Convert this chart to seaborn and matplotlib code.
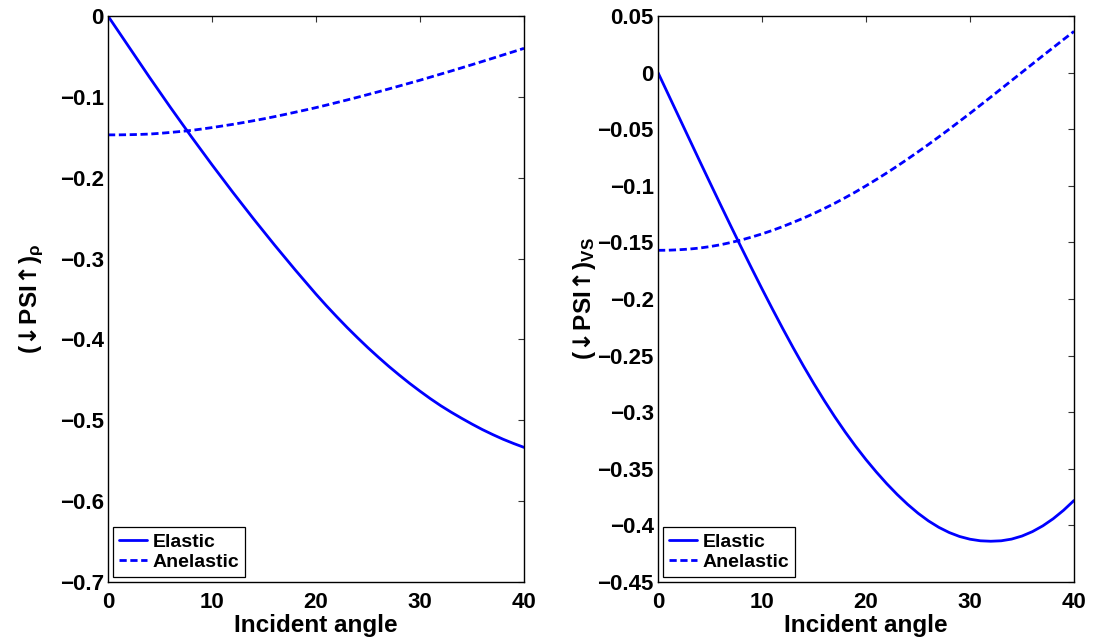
import numpy as np
import pandas as pd
import matplotlib
matplotlib.use("Agg")
import matplotlib.pyplot as plt
import seaborn as sns
from matplotlib.ticker import FuncFormatter

# incident angle (deg), one reading per degree
angles = list(range(0, 41))

# left panel: density term
rho_elastic = [0.0, -0.019, -0.038, -0.057, -0.076, -0.0945, -0.113, -0.131,
               -0.149, -0.1665, -0.184, -0.201, -0.218, -0.2345, -0.251,
               -0.267, -0.283, -0.2985, -0.314, -0.329, -0.344, -0.3583,
               -0.372, -0.3853, -0.398, -0.4103, -0.422, -0.4333, -0.444,
               -0.4543, -0.464, -0.4733, -0.482, -0.490, -0.4975, -0.5047,
               -0.5115, -0.5177, -0.5235, -0.5287, -0.5335]
rho_anelastic = [-0.147, -0.147, -0.1468, -0.1465, -0.146, -0.1451, -0.144,
                 -0.1428, -0.1415, -0.1398, -0.138, -0.136, -0.134, -0.1318,
                 -0.1295, -0.1271, -0.1245, -0.1218, -0.119, -0.1162,
                 -0.1133, -0.1102, -0.107, -0.1038, -0.1005, -0.0971,
                 -0.0937, -0.0902, -0.0866, -0.083, -0.0794, -0.0756,
                 -0.0718, -0.068, -0.0641, -0.0602, -0.0562, -0.0522,
                 -0.0481, -0.0441, -0.040]

# right panel: VS term
vs_elastic = [0.0, -0.0195, -0.039, -0.0585, -0.078, -0.0973, -0.1165,
              -0.1355, -0.1543, -0.1728, -0.191, -0.2088, -0.2262, -0.2431,
              -0.2594, -0.275, -0.2899, -0.3041, -0.3175, -0.3301, -0.3419,
              -0.3529, -0.3632, -0.3727, -0.3814, -0.3892, -0.396, -0.4017,
              -0.4063, -0.4098, -0.4122, -0.4136, -0.414, -0.4136, -0.4121,
              -0.4094, -0.4055, -0.4004, -0.3941, -0.3866, -0.378]
vs_anelastic = [-0.157, -0.1569, -0.1565, -0.1559, -0.155, -0.1537, -0.1521,
                -0.1501, -0.1479, -0.1453, -0.1425, -0.1394, -0.136,
                -0.1323, -0.1285, -0.1244, -0.12, -0.1154, -0.1105, -0.1054,
                -0.100, -0.0944, -0.0886, -0.0826, -0.0764, -0.070, -0.0635,
                -0.0568, -0.050, -0.043, -0.036, -0.0288, -0.0216, -0.0143,
                -0.007, 0.0003, 0.0076, 0.0149, 0.0221, 0.0293, 0.0364]

model_order = ["Elastic", "Anelastic"]
x_ticks = [0, 10, 20, 30, 40]
rho_ticks = [0, -0.1, -0.2, -0.3, -0.4, -0.5, -0.6, -0.7]
vs_ticks = [0.05, 0, -0.05, -0.1, -0.15, -0.2, -0.25, -0.3, -0.35, -0.4, -0.45]


def long_frame(elastic, anelastic):
    return pd.concat([
        pd.DataFrame({"angle": angles, "value": elastic, "model": "Elastic"}),
        pd.DataFrame({"angle": angles, "value": anelastic, "model": "Anelastic"}),
    ], ignore_index=True)


sns.set_theme(style="white")
plt.rcParams["font.family"] = ["Liberation Sans", "DejaVu Sans"]
plt.rcParams["font.weight"] = "bold"
plt.rcParams["axes.labelweight"] = "bold"
plt.rcParams["mathtext.fontset"] = "custom"
plt.rcParams["mathtext.rm"] = "DejaVu Sans"
plt.rcParams["mathtext.it"] = "Liberation Sans"
plt.rcParams["mathtext.bf"] = "Liberation Sans:bold"
plt.rcParams["text.color"] = "black"
plt.rcParams["axes.labelcolor"] = "black"
plt.rcParams["xtick.color"] = "black"
plt.rcParams["ytick.color"] = "black"

fig = plt.figure(figsize=(10.96, 6.41), dpi=100)
ax1 = fig.add_axes([108 / 1096, 59 / 641, 416 / 1096, 566 / 641])
ax2 = fig.add_axes([658 / 1096, 59 / 641, 416 / 1096, 566 / 641])

minus_fmt = FuncFormatter(lambda v, p: ("%g" % v).replace("-", "\u2212"))

# arrows drawn as math symbols; \! cancels the relation spacing
psi = r"($\!\downarrow\!$PSI$\!\uparrow\!$)"
panels = [
    (ax1, long_frame(rho_elastic, rho_anelastic), rho_ticks, (-0.7, 0),
     psi + r"$_{\rho}$", -0.15),
    (ax2, long_frame(vs_elastic, vs_anelastic), vs_ticks, (-0.45, 0.05),
     psi + r"$_{\mathbf{VS}}$", -0.145),
]

for ax, df, yt, ylim, ylab, lab_x in panels:
    sns.lineplot(
        data=df, x="angle", y="value", style="model", style_order=model_order,
        dashes={"Elastic": "", "Anelastic": (2.6, 1.3)},
        color="#0000FF", linewidth=2.0, estimator=None, sort=False,
        legend=False, ax=ax,
    )
    ax.set_xlim(0, 40)
    ax.set_ylim(*ylim)
    ax.set_xticks(x_ticks)
    ax.set_yticks(yt)
    ax.xaxis.set_major_formatter(minus_fmt)
    ax.yaxis.set_major_formatter(minus_fmt)
    ax.tick_params(direction="in", length=4, width=0.8, color="#333333",
                   labelcolor="black", top=True, right=True, labelsize=16)
    ax.tick_params(axis="x", pad=7)
    ax.tick_params(axis="y", pad=3)
    for lab in ax.get_xticklabels() + ax.get_yticklabels():
        lab.set_fontweight("bold")
    for s in ax.spines.values():
        s.set_color("black")
        s.set_linewidth(1.0)
    ax.set_xlabel("Incident angle", fontsize=17.5, fontweight="bold", labelpad=1)
    ax.set_ylabel(ylab, fontsize=17.5, fontweight="bold")
    ax.yaxis.set_label_coords(lab_x, 0.5)

    leg = ax.legend(ax.lines[:2], model_order, loc="lower left",
                    bbox_to_anchor=(0.012, 0.009), borderaxespad=0,
                    fancybox=False, framealpha=1, edgecolor="black",
                    handlelength=1.45, handletextpad=0.3, labelspacing=0.15,
                    borderpad=0.3, prop={"size": 14, "weight": "bold"})
    leg.get_frame().set_linewidth(0.9)

plt.savefig("out.png", dpi=100)
plt.close()
